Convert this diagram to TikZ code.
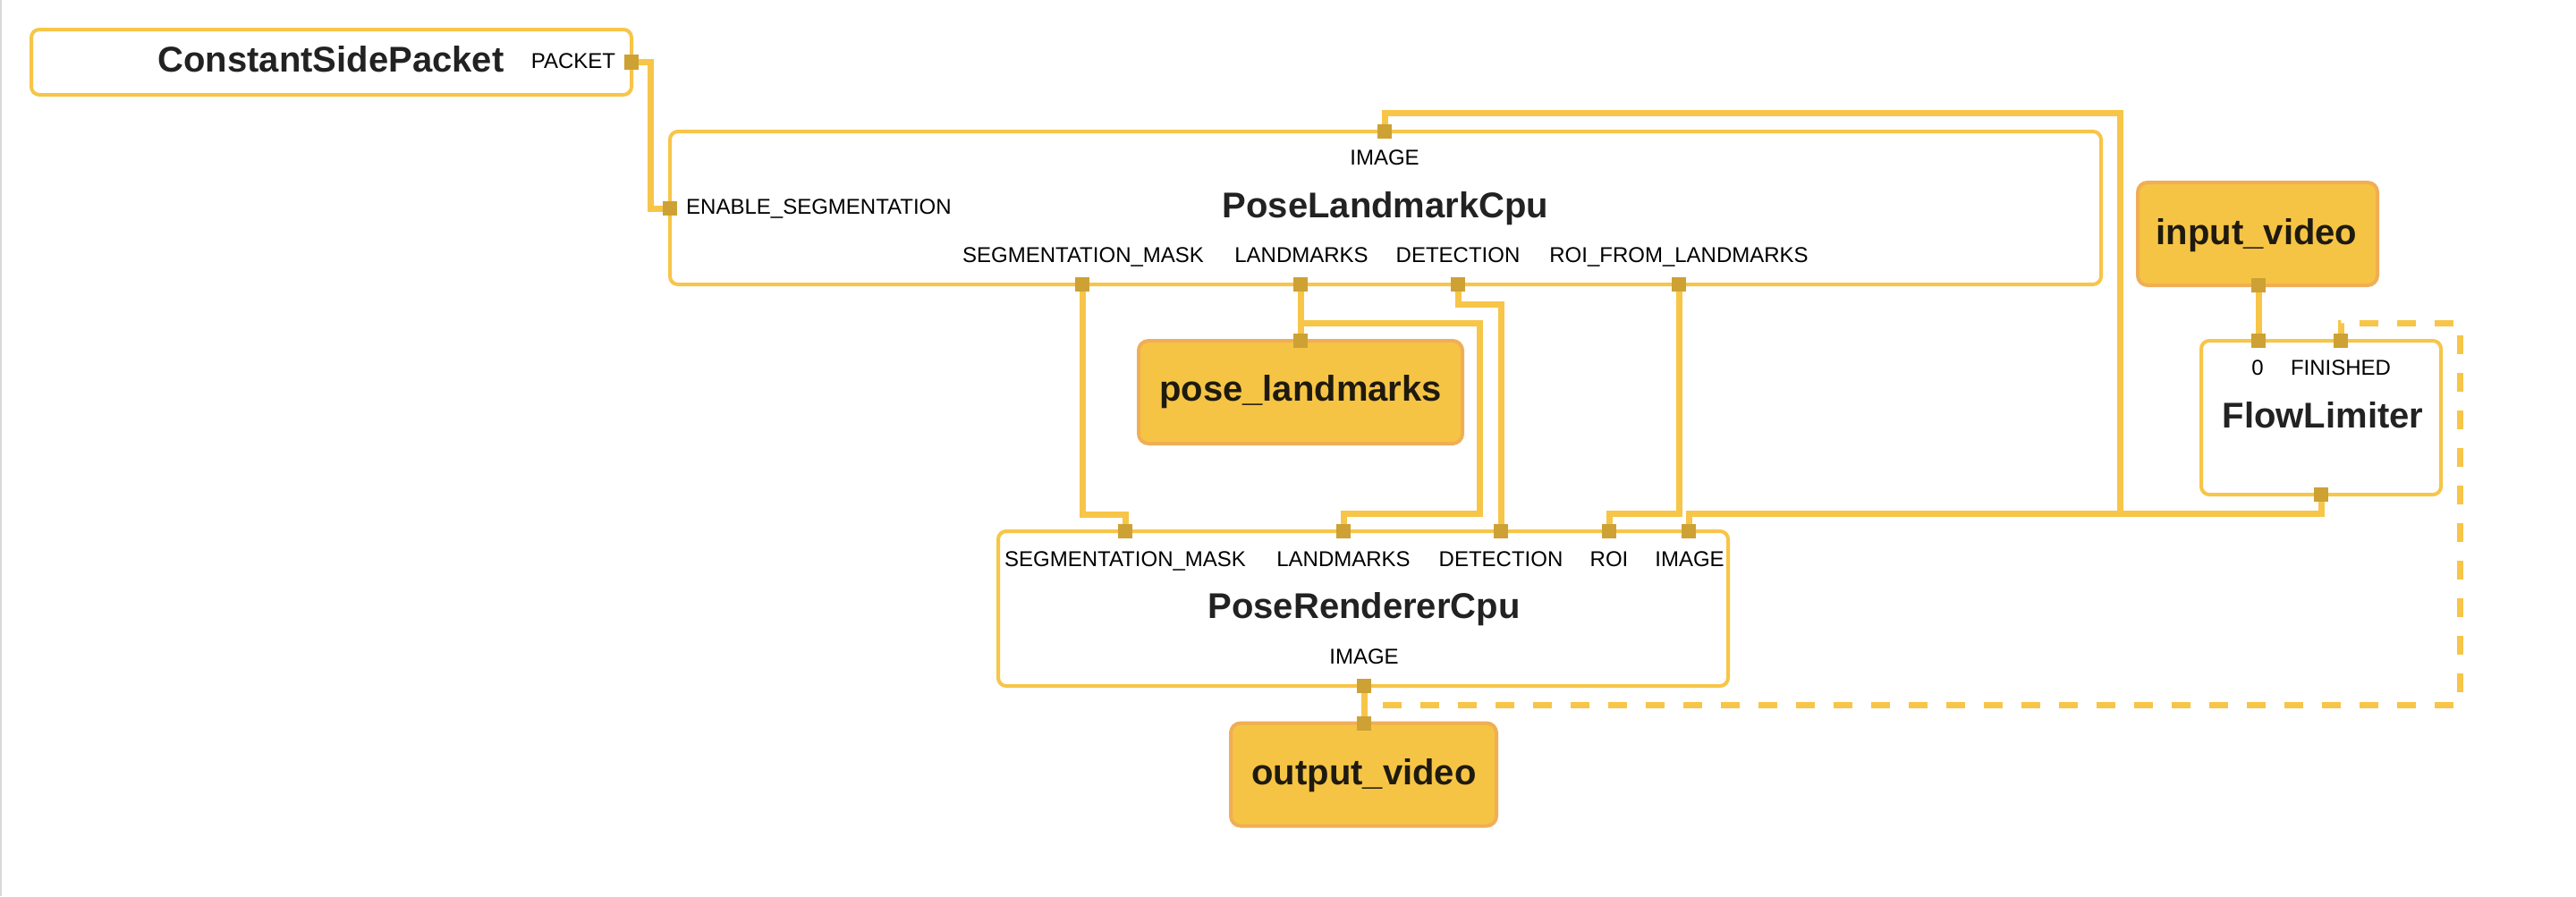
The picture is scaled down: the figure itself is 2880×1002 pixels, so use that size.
\documentclass[tikz,border=0pt]{standalone}
\usepackage{fontspec}
\setmainfont{Liberation Sans}
\definecolor{edgec}{HTML}{F7C548}
\definecolor{streamf}{HTML}{F6C445}
\definecolor{streamb}{HTML}{F0AE55}
\definecolor{portc}{HTML}{CDA134}
\definecolor{titlec}{HTML}{222222}
\definecolor{streamt}{HTML}{1E1A0F}
\definecolor{leftc}{HTML}{D9D9D9}
\begin{document}
\begin{tikzpicture}[x=1pt,y=-1pt,
  calcbox/.style={draw=edgec, line width=4pt, rounded corners=9pt, fill=white, inner sep=0pt},
  streambox/.style={draw=streamb, line width=4pt, rounded corners=11pt, fill=streamf, inner sep=0pt},
  port/.style={fill=portc, minimum size=16.5pt, inner sep=0pt, draw=none},
  edge/.style={draw=edgec, line width=7pt},
  backedge/.style={draw=edgec, line width=7pt, dash pattern=on 21pt off 21pt},
  ttl/.style={font=\fontsize{40}{48}\selectfont\bfseries, text=titlec, anchor=base, inner sep=0pt},
  sttl/.style={ttl, text=streamt},
  lbl/.style={font=\fontsize{24}{28}\selectfont, text=black, anchor=base, inner sep=0pt}]
\useasboundingbox (0,0) rectangle (2880,1002);
\fill[white] (0,0) rectangle (2880,1002);
\fill[leftc] (0,0) rectangle (2,1002);

% boxes
\node[calcbox, minimum width=671pt, minimum height=73pt] (csp) at (370.5,69.5) {};
\node[calcbox, minimum width=1600pt, minimum height=171pt] (plm) at (1549,232.5) {};
\node[calcbox, minimum width=816pt, minimum height=173pt] (prc) at (1524,680.5) {};
\node[calcbox, minimum width=268pt, minimum height=172pt] (fl) at (2595,467) {};
\node[streambox, minimum width=268pt, minimum height=115pt] (iv) at (2524,261.5) {};
\node[streambox, minimum width=362pt, minimum height=115pt] (pl) at (1454,438.5) {};
\node[streambox, minimum width=297pt, minimum height=115pt] (ov) at (1524.5,866) {};

% texts
\node[ttl] (cspT) at (370,80) {ConstantSidePacket};
\node[lbl] (cspP) at (641,76) {PACKET};
\node[ttl] (plmT) at (1549,243) {PoseLandmarkCpu};
\node[lbl] (plmI) at (1548,184) {IMAGE};
\node[lbl, anchor=base west] (plmE) at (767,239) {ENABLE\_SEGMENTATION};
\node[lbl] (plmS) at (1211,293) {SEGMENTATION\_MASK};
\node[lbl] (plmL) at (1455,293) {LANDMARKS};
\node[lbl] (plmD) at (1630,293) {DETECTION};
\node[lbl] (plmR) at (1877,293) {ROI\_FROM\_LANDMARKS};
\node[lbl] (prcS) at (1258,633) {SEGMENTATION\_MASK};
\node[lbl] (prcL) at (1502,633) {LANDMARKS};
\node[lbl] (prcD) at (1678,633) {DETECTION};
\node[lbl] (prcR) at (1799,633) {ROI};
\node[lbl] (prcI) at (1889,633) {IMAGE};
\node[ttl] (prcT) at (1525,691) {PoseRendererCpu};
\node[lbl] (prcO) at (1525,742) {IMAGE};
\node[sttl] (ovT) at (1525,877) {output\_video};
\node[sttl] (plT) at (1454,448) {pose\_landmarks};
\node[sttl] (ivT) at (2523,273) {input\_video};
\node[ttl] (flT) at (2597,478) {FlowLimiter};
\node[lbl] (fl0) at (2524,419) {0};
\node[lbl] (flF) at (2617,419) {FINISHED};

% port anchors
\coordinate (cPacket) at (706,69.5);
\coordinate (cEnable) at (749,233);
\coordinate (cLmImage) at (1548,147);
\coordinate (cSeg) at (1210,318);
\coordinate (cLand) at (1454,318);
\coordinate (cDet) at (1630,318);
\coordinate (cRoi) at (1877,318);
\coordinate (cPoseLm) at (1454,381);
\coordinate (cRSeg) at (1258,594);
\coordinate (cRLand) at (1502,594);
\coordinate (cRDet) at (1678,594);
\coordinate (cRRoi) at (1799,594);
\coordinate (cRImage) at (1888,594);
\coordinate (cROut) at (1525,767);
\coordinate (cOv) at (1525,809);
\coordinate (cIv) at (2525,319);
\coordinate (cF0) at (2525,381);
\coordinate (cFin) at (2617,381);
\coordinate (cFOut) at (2595,553);
\coordinate (dashStart) at (1546,788);

% edges
\draw[edge] (cPacket) -- ++(21,0) |- (cEnable);
\draw[edge] (cFOut) -- ++(0,21) -- (2370,574) -- (2370,126) -| (cLmImage);
\draw[edge] (cFOut) -- ++(0,21) -| (cRImage);
\draw[edge] (cSeg) -- ++(0,257) -| (cRSeg);
\draw[edge] (cLand) -- (cPoseLm);
\draw[edge] (cLand) -- ++(0,43) -- (1654,361) -- (1654,574) -| (cRLand);
\draw[edge] (cDet) -- ++(0,22) -| (cRDet);
\draw[edge] (cRoi) -- ++(0,256) -| (cRRoi);
\draw[edge] (cIv) -- (cF0);
\draw[edge] (cROut) -- (cOv);
\draw[backedge] (dashStart) -- (2750,788) -- (2750,361) -| (cFin);

% ports
\foreach \p in {cPacket,cEnable,cLmImage,cSeg,cLand,cDet,cRoi,cPoseLm,cRSeg,cRLand,cRDet,cRRoi,cRImage,cROut,cOv,cIv,cF0,cFin,cFOut}
  \node[port] (port-\p) at (\p) {};
\end{tikzpicture}
\end{document}
